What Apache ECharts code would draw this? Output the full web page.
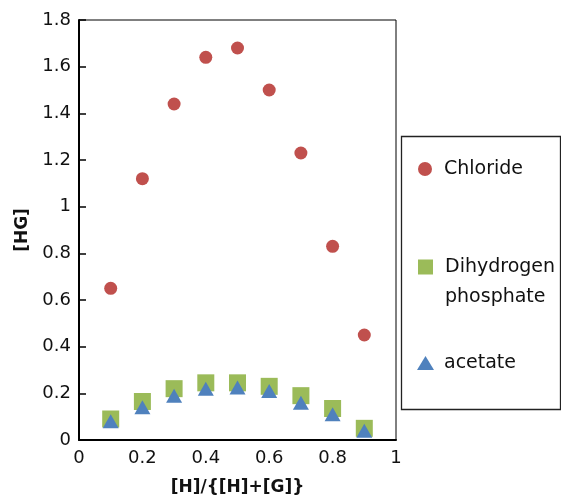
<!DOCTYPE html>
<html>
<head>
<meta charset="utf-8">
<script src="https://cdn.jsdelivr.net/npm/echarts@6/dist/echarts.min.js"></script>
<style>
  body { margin: 0; background: #fff; }
  #chart { width: 561px; height: 498px; }
</style>
</head>
<body>
<div id="chart"></div>
<script>
// ratio of host to host+guest
const ratio = [0.1, 0.2, 0.3, 0.4, 0.5, 0.6, 0.7, 0.8, 0.9]
const chloride = [0.65, 1.12, 1.44, 1.64, 1.68, 1.50, 1.23, 0.83, 0.45]
const dihydrogen = [0.09, 0.165, 0.22, 0.245, 0.245, 0.23, 0.19, 0.135, 0.05]
const acetate = [0.08, 0.14, 0.19, 0.22, 0.225, 0.21, 0.16, 0.11, 0.04]

const pairs = (ys) => ratio.map((x, i) => [x, ys[i]])

const chart = echarts.init(document.getElementById('chart'))
const font = 'DejaVu Sans, sans-serif'

const legendText = { fontSize: 19, color: '#111', fontFamily: font, lineHeight: 22, padding: [0, 0, 0, 7] }

const option = {
  animation: false,
  grid: { left: 79, right: 165, top: 20, bottom: 58, show: true, borderColor: '#000', borderWidth: 1,
    outerBoundsMode: 'none', containLabel: false },
  xAxis: {
    type: 'value', min: 0, max: 1, interval: 0.2,
    name: '[H]/{[H]+[G]}', nameLocation: 'middle', nameGap: 39,
    nameTextStyle: { fontSize: 17, fontWeight: 'bold', color: '#111', fontFamily: font },
    axisLine: { show: true, onZero: false, lineStyle: { color: '#000', width: 2 } },
    axisTick: { show: false },
    splitLine: { show: false },
    axisLabel: { fontSize: 18, color: '#111', fontFamily: font, margin: 9 }
  },
  yAxis: {
    type: 'value', min: 0, max: 1.8, interval: 0.2,
    name: '[HG]', nameLocation: 'middle', nameGap: 48, nameRotate: 90,
    nameTextStyle: { fontSize: 17, fontWeight: 'bold', color: '#111', fontFamily: font },
    axisLine: { show: true, lineStyle: { color: '#000', width: 2 } },
    axisTick: { show: true, inside: true, length: 7, lineStyle: { color: '#000', width: 1.5 } },
    splitLine: { show: false },
    axisLabel: { fontSize: 18, color: '#111', fontFamily: font, margin: 8,
      formatter: v => String(Math.round(v * 10) / 10) }
  },
  legend: [
    { data: ['Chloride'], left: 418, top: 158, padding: 0, itemWidth: 14, itemHeight: 14, textStyle: legendText },
    // leading blank line keeps the icon level with the first word
    { data: ['Dihydrogen phosphate'], left: 418, top: 222, padding: 0, itemWidth: 15, itemHeight: 15,
      textStyle: Object.assign({}, legendText, { lineHeight: 30 }),
      formatter: () => '\nDihydrogen\nphosphate' },
    { data: ['acetate'], left: 417, top: 352, padding: 0, itemWidth: 17, itemHeight: 14,
      textStyle: Object.assign({}, legendText, { padding: [0, 0, 0, 5] }) }
  ],
  graphic: [
    { type: 'rect', left: 399, top: 134, shape: { width: 159, height: 273 },
      style: { fill: 'none', stroke: '#222', lineWidth: 1.3 } }
  ],
  series: [
    { name: 'Chloride', type: 'scatter', data: pairs(chloride), symbol: 'circle', symbolSize: 13,
      itemStyle: { color: '#C0504D', opacity: 1 } },
    { name: 'Dihydrogen phosphate', type: 'scatter', data: pairs(dihydrogen), symbol: 'rect', symbolSize: 17,
      itemStyle: { color: '#9BBB59', opacity: 1 } },
    { name: 'acetate', type: 'scatter', data: pairs(acetate), symbol: 'triangle', symbolSize: [16, 14],
      itemStyle: { color: '#4F81BD', opacity: 1 } }
  ]
}

chart.setOption(option)
</script>
</body>
</html>
